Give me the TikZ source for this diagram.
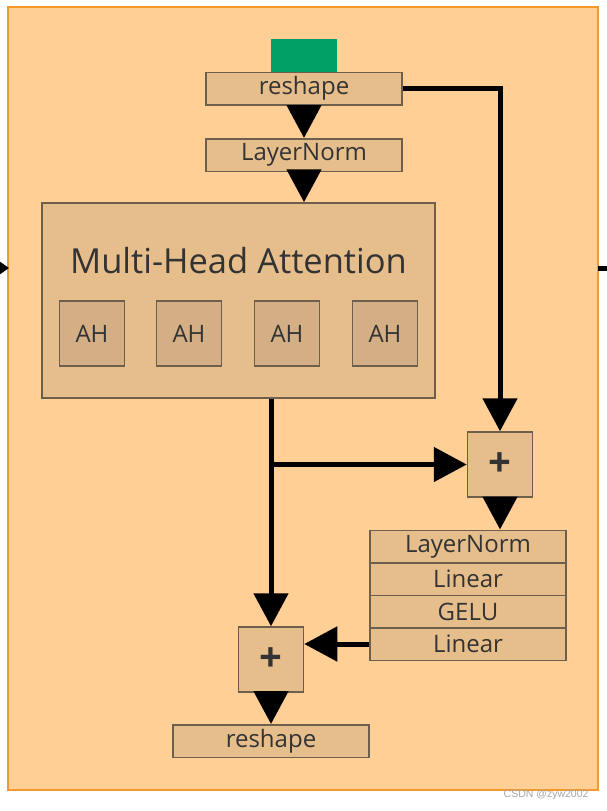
\documentclass[tikz,border=0pt]{standalone}
\usepackage{fontspec}
\setmainfont{Open Sans}
\newfontfamily\markfont{Liberation Sans}
\usetikzlibrary{arrows.meta, positioning}

\definecolor{bgpeach}{HTML}{FFCF96}
\definecolor{boxtan}{HTML}{E6BE8C}
\definecolor{headtan}{HTML}{D4AF86}
\definecolor{edgegray}{HTML}{6E5E4C}
\definecolor{framebr}{HTML}{F39A2C}
\definecolor{tokgreen}{HTML}{00A066}
\definecolor{txtgray}{HTML}{333333}

\tikzset{
  layerbox/.style={draw=edgegray, fill=boxtan, line width=1.5pt, minimum width=196pt,
    minimum height=32.5pt, inner sep=0pt, text=txtgray, font=\fontsize{24}{28}\selectfont},
  headbox/.style={draw=edgegray, fill=headtan, line width=1.5pt, minimum size=65pt,
    inner sep=0pt, text=txtgray, font=\fontsize{24}{28}\selectfont},
  plusbox/.style={draw=edgegray, fill=boxtan, line width=1.5pt, minimum size=65pt,
    inner sep=0pt, text=txtgray, font=\fontsize{40}{40}\selectfont\bfseries},
  flow/.style={line width=5pt, -{Triangle[width=34pt,length=33pt]}}
}

\begin{document}
\begin{tikzpicture}[x=1pt, y=-1pt]
  \useasboundingbox (0,0) rectangle (607,811);
  % outer block
  \draw[fill=bgpeach, draw=framebr, line width=2pt] (8,7) rectangle (598,790);
  \coordinate (inleft) at (0,268);
  \coordinate (inright) at (9,268);
  \coordinate (outleft) at (598,268);
  \coordinate (outright) at (607,268);
  \draw[line width=3pt, -{Triangle[width=12pt,length=9pt]}] (inleft) -- (inright);
  \draw[line width=5pt] (outleft) -- (outright);

  % input token
  \node[fill=tokgreen, minimum width=66pt, minimum height=33pt, inner sep=0pt] (token) at (304,55.5) {};

  \node[layerbox] (rs1) at (304,88.5) {reshape};
  \node[layerbox] (ln1) at (304,155) {LayerNorm};

  % attention block
  \node[draw=edgegray, fill=boxtan, line width=1.5pt, minimum width=393pt, minimum height=195pt,
    inner sep=0pt] (mha) at (238.5,300.5) {};
  \node[text=txtgray, font=\fontsize{34.5}{40}\selectfont] (mhatitle) at (238.5,261) {Multi-Head Attention};
  \node[headbox] (ah1) at (92,333.5) {AH};
  \node[headbox] (ah2) at (189,333.5) {AH};
  \node[headbox] (ah3) at (287,333.5) {AH};
  \node[headbox] (ah4) at (385,333.5) {AH};

  \node[plusbox] (plus1) at (500,464.5) {+};

  % MLP stack
  \node[layerbox] (ln2) at (468,546.5) {LayerNorm};
  \node[layerbox, below=-1.5pt of ln2] (lin1) {Linear};
  \node[layerbox, below=-1.5pt of lin1] (gelu) {GELU};
  \node[layerbox, below=-1.5pt of gelu] (lin2) {Linear};

  \node[plusbox] (plus2) at (271,659.5) {+};
  \node[layerbox] (rs2) at (271,741) {reshape};

  % connectors
  \coordinate (split) at (plus1.west -| plus2.north);
  \coordinate (mhaout) at (mha.south -| plus2.north);
  \draw[flow] (rs1) -- (ln1);
  \draw[flow] (ln1) -- (ln1 |- mha.north);
  \draw[flow] (rs1.east) -| (plus1.north);
  \draw[line width=5pt] (mhaout) -- (split);
  \draw[flow] (split) -- (plus1.west);
  \draw[flow] (split) -- (plus2.north);
  \draw[flow] (plus1) -- (plus1 |- ln2.north);
  \draw[flow] (lin2.west) -- (lin2.west -| plus2.east);
  \draw[flow] (plus2) -- (rs2);

  \node[text=gray!70, font=\fontsize{10.5}{12}\selectfont\markfont, anchor=east] (mark) at (592,795) {CSDN @zyw2002};
\end{tikzpicture}
\end{document}
